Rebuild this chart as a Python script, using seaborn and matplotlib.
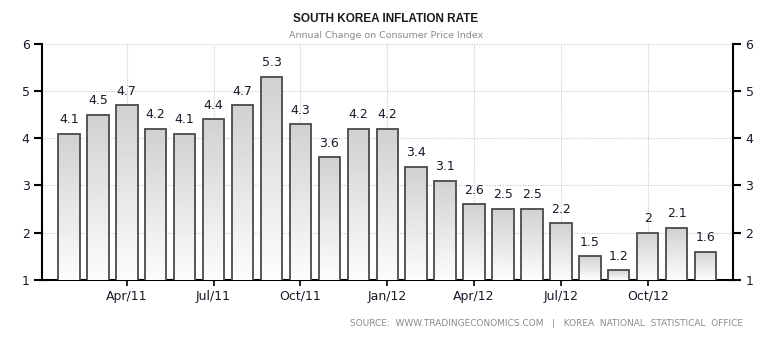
import numpy as np
import pandas as pd
import matplotlib
matplotlib.use("Agg")
import matplotlib.pyplot as plt
import seaborn as sns

# Monthly CPI inflation, year-on-year (%)
months = ["Jan/11", "Feb/11", "Mar/11", "Apr/11", "May/11", "Jun/11", "Jul/11",
          "Aug/11", "Sep/11", "Oct/11", "Nov/11", "Dec/11", "Jan/12", "Feb/12",
          "Mar/12", "Apr/12", "May/12", "Jun/12", "Jul/12", "Aug/12", "Sep/12",
          "Oct/12", "Nov/12"]
inflation = [4.1, 4.5, 4.7, 4.2, 4.1, 4.4, 4.7, 5.3, 4.3, 3.6, 4.2, 4.2,
             3.4, 3.1, 2.6, 2.5, 2.5, 2.2, 1.5, 1.2, 2.0, 2.1, 1.6]
tick_labels = ["Apr/11", "Jul/11", "Oct/11", "Jan/12", "Apr/12", "Jul/12", "Oct/12"]
tick_index = [2, 5, 8, 11, 14, 17, 20]
y_ticks = [1, 2, 3, 4, 5, 6]

df = pd.DataFrame({"month": months, "value": inflation})

sns.set_style("white")
plt.rcParams["font.family"] = ["DejaVu Sans"]

fig = plt.figure(figsize=(7.64, 3.38), dpi=100)
ax = fig.add_axes([0.055, 0.172, 0.9045, 0.698])

sns.barplot(data=df, x="month", y="value", ax=ax, width=0.74,
            color="#d8d8d8", edgecolor="#4a4a4a", linewidth=1.3, zorder=3)

ax.set_ylim(1, 6)
ax.set_xlim(-0.93, len(months) - 1 + 0.95)

# vertical grey gradient inside every bar
grad = np.linspace(0.82, 0.99, 64).reshape(-1, 1)
for p in ax.patches:
    x0, y0 = p.get_x(), p.get_y()
    w, h = p.get_width(), p.get_height()
    im = ax.imshow(grad, cmap="gray", vmin=0, vmax=1, aspect="auto",
                   extent=(x0, x0 + w, 1.0, y0 + h), origin="upper",
                   zorder=3.5, interpolation="bilinear")
    im.set_clip_path(p)
    p.set_facecolor("none")
    p.set_zorder(4)
ax.set_xlim(-0.93, len(months) - 1 + 0.95)
ax.set_ylim(1, 6)

# value labels
for i, v in enumerate(inflation):
    ax.annotate(f"{v:g}", (i, v), xytext=(0, 5.5), textcoords="offset points",
                ha="center", va="bottom", fontsize=9, color="#1a1a2a", zorder=5)

# dotted grid
for yv in y_ticks[1:]:
    ax.axhline(yv, color="#c8c8c8", lw=0.8, ls=(0, (1, 1.3)), zorder=1)
for xi in tick_index:
    ax.axvline(xi, color="#c8c8c8", lw=0.8, ls=(0, (1, 1.3)), zorder=1)

ax.set_xticks(tick_index)
ax.set_xticklabels(tick_labels)
ax.set_yticks(y_ticks)
ax.set_yticklabels([str(t) for t in y_ticks])
ax.set_xlabel("")
ax.set_ylabel("")

ax.tick_params(axis="x", direction="out", length=4, width=1.2, color="black",
               labelsize=9, labelcolor="#1a1a2a", pad=3, bottom=True)
ax.tick_params(axis="y", direction="out", length=6, width=1.5, color="black",
               labelsize=9, labelcolor="#1a1a2a", pad=3,
               left=True, right=True, labelleft=True, labelright=True)

for side in ["left", "right", "bottom"]:
    ax.spines[side].set_visible(True)
    ax.spines[side].set_color("black")
    ax.spines[side].set_linewidth(1.5)
ax.spines["top"].set_visible(False)

fig.text(0.505, 0.944, "SOUTH KOREA INFLATION RATE", ha="center", va="center",
         fontsize=8.5, fontweight="bold", color="#1a1a1a",
         family=["Liberation Sans", "DejaVu Sans"])
fig.text(0.505, 0.896, "Annual Change on Consumer Price Index", ha="center",
         va="center", fontsize=6.8, color="#8a8a8a")
fig.text(0.972, 0.042, "SOURCE:  WWW.TRADINGECONOMICS.COM   |   KOREA  NATIONAL  STATISTICAL  OFFICE",
         ha="right", va="center", fontsize=6.5, color="#8a8a8a")

fig.savefig("out.png", dpi=100)
